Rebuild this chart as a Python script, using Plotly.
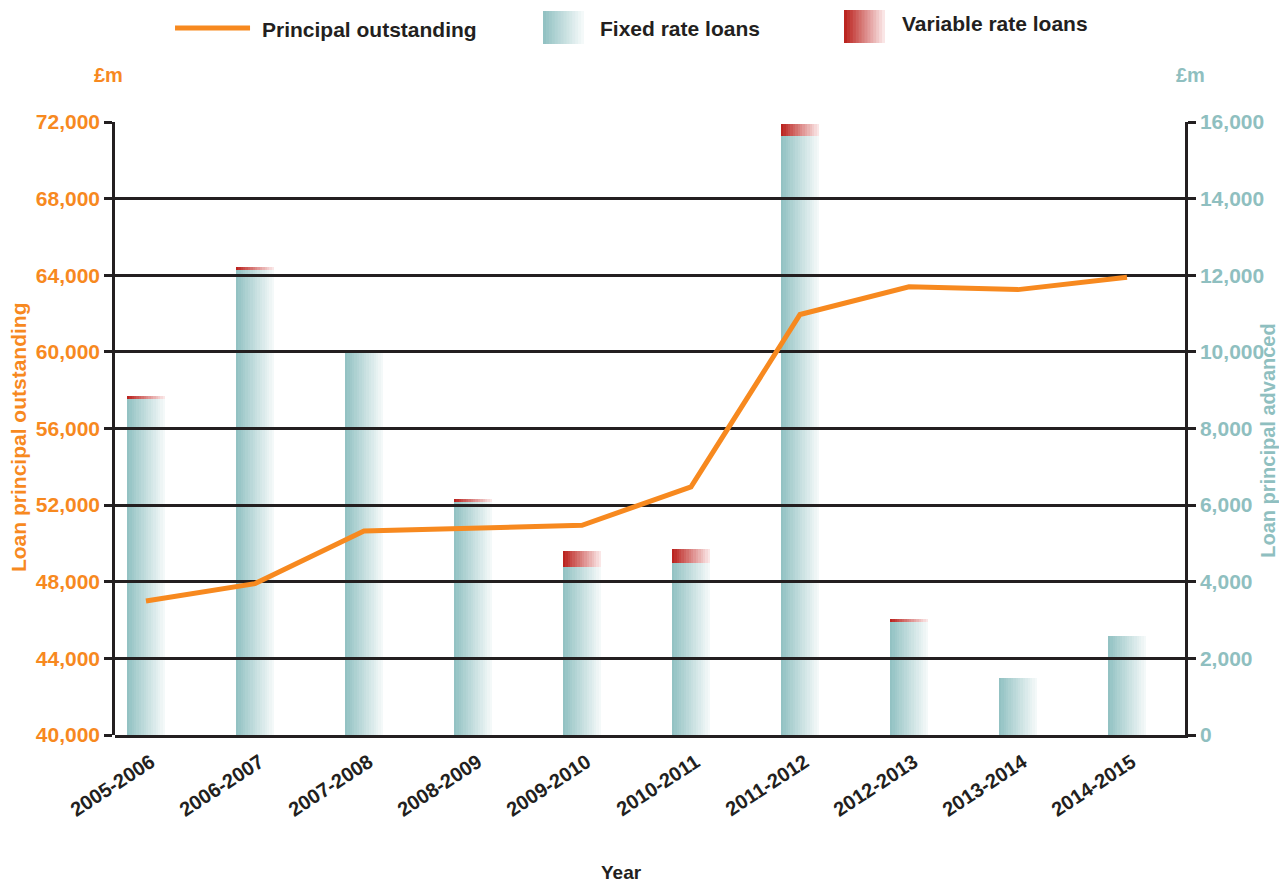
import plotly.graph_objects as go

# ---- data ----
years = ["2005-2006", "2006-2007", "2007-2008", "2008-2009", "2009-2010",
         "2010-2011", "2011-2012", "2012-2013", "2013-2014", "2014-2015"]
principal_outstanding = [47000, 47900, 50650, 50800, 50950, 52950, 61950, 63400, 63250, 63900]
fixed_rate_loans = [8780, 12140, 10000, 6080, 4390, 4500, 15640, 2960, 1490, 2580]
variable_rate_loans = [70, 80, 60, 80, 400, 350, 300, 80, 0, 0]

left_ticks = [40000, 44000, 48000, 52000, 56000, 60000, 64000, 68000, 72000]
right_ticks = [0, 2000, 4000, 6000, 8000, 10000, 12000, 14000, 16000]

# ---- styling ----
ORANGE = "#f7891f"
TEAL_TXT = "#8fbfc0"
DARK = "#231f20"
FONT = "Liberation Sans"
TEAL = (147, 194, 195)
RED = (187, 36, 32)
LIGHT_TEAL = (244, 249, 249)
LIGHT_RED = (250, 230, 230)
N_SLICES = 16
BAR_W = 0.35
X_RANGE = [-0.284, 9.532]

def lerp(c1, c2, t):
    return tuple(int(round(a + (b - a) * t)) for a, b in zip(c1, c2))

def rgb(c):
    return "rgb(%d,%d,%d)" % c

fig = go.Figure()

# bars (subplot 1, right-hand scale) - horizontal gradient made of thin slices
sw = BAR_W / N_SLICES
for k in range(N_SLICES):
    t = k / (N_SLICES - 1)
    off = -BAR_W / 2 + k * sw
    w = sw * (1.0 if k == N_SLICES - 1 else 1.25)
    fig.add_trace(go.Bar(
        x=years, y=fixed_rate_loans, width=w, offset=off,
        marker=dict(color=rgb(lerp(TEAL, LIGHT_TEAL, t)), line=dict(width=0)),
        name="Fixed rate loans", showlegend=False, hoverinfo="skip",
        xaxis="x", yaxis="y"))
    fig.add_trace(go.Bar(
        x=years, y=variable_rate_loans, base=fixed_rate_loans, width=w, offset=off,
        marker=dict(color=rgb(lerp(RED, LIGHT_RED, t)), line=dict(width=0)),
        name="Variable rate loans", showlegend=False, hoverinfo="skip",
        xaxis="x", yaxis="y"))

# line (subplot 2 on the same area, left-hand scale; its grid is drawn over the bars)
fig.add_trace(go.Scatter(
    x=years, y=principal_outstanding, mode="lines",
    line=dict(color=ORANGE, width=5), name="Principal outstanding",
    showlegend=False, xaxis="x2", yaxis="y3"))

# ---- custom legend (paper coordinates) ----
shapes = []
shapes.append(dict(type="line", xref="paper", yref="paper",
                   x0=0.0561, x1=0.1262, y0=1.1533, y1=1.1533,
                   line=dict(color=ORANGE, width=5)))

def swatch(x0, x1, y0, y1, c1, c2):
    n = 14
    w = (x1 - x0) / n
    for k in range(n):
        t = k / (n - 1)
        x_end = x0 + (k + 1) * w + (0.0015 if k < n - 1 else 0)
        shapes.append(dict(type="rect", xref="paper", yref="paper",
                           x0=x0 + k * w, x1=x_end, y0=y0, y1=y1,
                           fillcolor=rgb(lerp(c1, c2, t)), line=dict(width=0)))

swatch(0.4000, 0.4383, 1.1272, 1.1811, TEAL, LIGHT_TEAL)
swatch(0.6813, 0.7196, 1.1289, 1.1827, RED, LIGHT_RED)

annotations = [
    dict(text="Principal outstanding", x=0.1355, y=1.1517),
    dict(text="Fixed rate loans", x=0.4514, y=1.1533),
    dict(text="Variable rate loans", x=0.7336, y=1.1599),
]
annotations = [dict(a, xref="paper", yref="paper", xanchor="left", yanchor="middle",
                    showarrow=False, font=dict(family=FONT, size=21, color=DARK, weight="bold"))
               for a in annotations]
annotations += [
    dict(text="£m", x=-0.0065, y=1.0767, xref="paper", yref="paper", showarrow=False,
         xanchor="center", yanchor="middle",
         font=dict(family=FONT, size=20, color=ORANGE, weight="bold")),
    dict(text="£m", x=1.0047, y=1.0767, xref="paper", yref="paper", showarrow=False,
         xanchor="center", yanchor="middle",
         font=dict(family=FONT, size=20, color=TEAL_TXT, weight="bold")),
    dict(text="Loan principal outstanding", x=-0.0907, y=0.486, xref="paper", yref="paper",
         showarrow=False, textangle=-90, xanchor="center", yanchor="middle",
         font=dict(family=FONT, size=21, color=ORANGE, weight="bold")),
    dict(text="Loan principal advanced", x=1.0776, y=0.48, xref="paper", yref="paper",
         showarrow=False, textangle=-90, xanchor="center", yanchor="middle",
         font=dict(family=FONT, size=20, color=TEAL_TXT, weight="bold")),
    dict(text="Year", x=0.4738, y=-0.2235, xref="paper", yref="paper", showarrow=False,
         xanchor="center", yanchor="middle",
         font=dict(family=FONT, size=19, color=DARK, weight="bold")),
]

fig.update_layout(
    width=1287, height=884,
    margin=dict(l=107, r=110, t=114, b=157),
    paper_bgcolor="white", plot_bgcolor="rgba(0,0,0,0)",
    barmode="overlay", bargap=0,
    showlegend=False,
    shapes=shapes, annotations=annotations,
    font=dict(family=FONT, color=DARK),
    xaxis=dict(type="category", range=X_RANGE, showgrid=False,
               showline=True, linecolor=DARK, linewidth=2.5,
               ticks="", tickangle=-33, anchor="y",
               ticklabelstandoff=5, ticklabelshift=5,
               tickfont=dict(family=FONT, size=20, color=DARK, weight="bold")),
    yaxis=dict(side="right", range=[0, 16000], tickvals=right_ticks,
               ticktext=[f"{v:,}" for v in right_ticks], anchor="x",
               showgrid=False,
               showline=True, linecolor=DARK, linewidth=2.5,
               ticks="outside", ticklen=8, tickwidth=2.5, tickcolor=DARK,
               zeroline=False,
               tickfont=dict(family=FONT, size=21, color=TEAL_TXT, weight="bold")),
    xaxis2=dict(type="category", range=X_RANGE, anchor="y3", visible=False,
                showgrid=False),
    yaxis3=dict(side="left", range=[40000, 72000], tickvals=left_ticks,
                ticktext=[f"{v:,}" for v in left_ticks], anchor="x2",
                showgrid=True, gridcolor=DARK, gridwidth=2.5,
                showline=True, linecolor=DARK, linewidth=2.5,
                ticks="outside", ticklen=8, tickwidth=2.5, tickcolor=DARK,
                zeroline=False,
                tickfont=dict(family=FONT, size=21, color=ORANGE, weight="bold")),
)

fig.write_html("out.html")
